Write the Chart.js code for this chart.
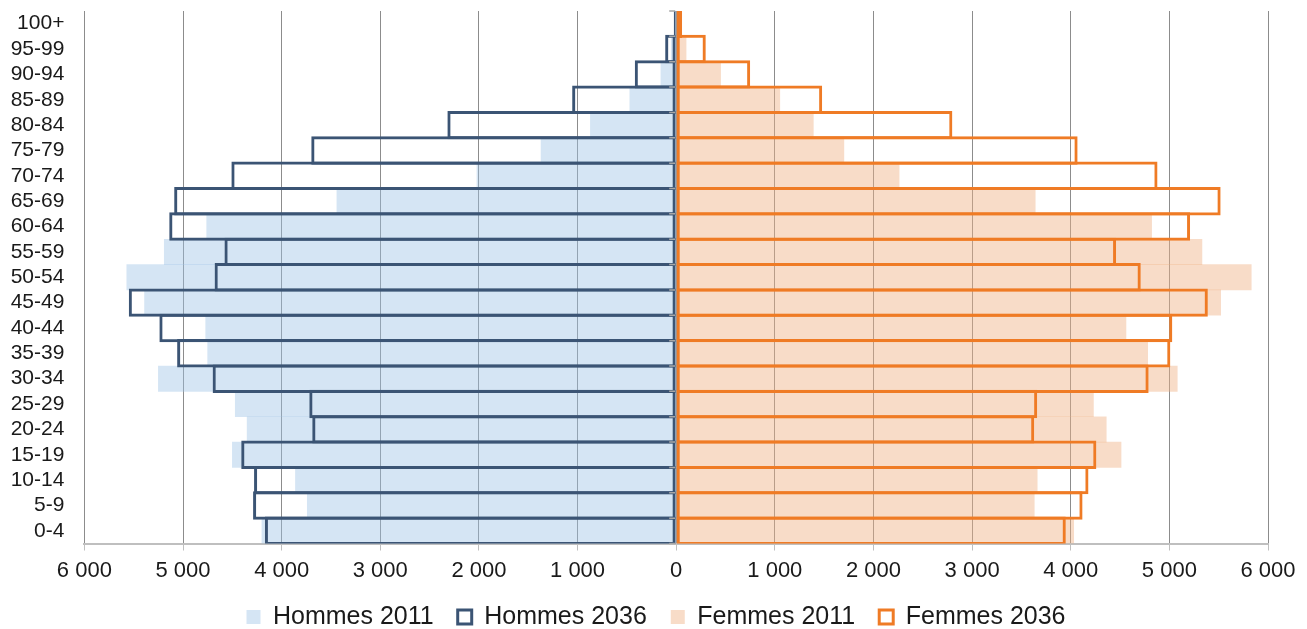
<!DOCTYPE html>
<html>
<head>
<meta charset="utf-8">
<script src="https://cdn.jsdelivr.net/npm/chart.js@4.4.1/dist/chart.umd.min.js"></script>
<style>
  html, body { margin: 0; padding: 0; background: #fff; }
  #wrap { position: relative; width: 1307px; height: 629px; }
</style>
</head>
<body>
<div id="wrap"><canvas id="pyramid"></canvas></div>
<script>
/* ---------- Data (youngest first) ---------- */
const ageGroups = ["0-4", "5-9", "10-14", "15-19", "20-24", "25-29", "30-34", "35-39", "40-44", "45-49",
  "50-54", "55-59", "60-64", "65-69", "70-74", "75-79", "80-84", "85-89", "90-94", "95-99", "100+"];

const hommes2011 = [4200, 3740, 3860, 4500, 4350, 4470, 5250, 4750, 4770, 5390,
  5570, 5190, 4760, 3440, 2020, 1370, 870, 470, 155, 50, 10];
const hommes2036 = [4170, 4290, 4280, 4410, 3690, 3720, 4700, 5060, 5240, 5550,
  4680, 4580, 5140, 5090, 4510, 3700, 2320, 1055, 420, 112, 25];
const femmes2011 = [4030, 3630, 3660, 4510, 4360, 4230, 5080, 4780, 4560, 5520,
  5830, 5330, 4820, 3640, 2260, 1700, 1390, 1050, 450, 100, 20];
const femmes2036 = [3950, 4120, 4180, 4260, 3630, 3660, 4790, 5010, 5030, 5390,
  4710, 4460, 5210, 5520, 4880, 4070, 2800, 1480, 750, 300, 60];

const xTicks = [-6000, -5000, -4000, -3000, -2000, -1000, 0, 1000, 2000, 3000, 4000, 5000, 6000];

/* ---------- Helpers ---------- */
function fmt(v) {
  return String(Math.abs(v)).replace(/\B(?=(\d{3})+(?!\d))/g, " ");
}

const FONT = "'Liberation Sans', Arial, sans-serif";

// small grey ticks on the zero axis, one per category boundary
const zeroAxis = {
  id: "zeroAxis",
  afterDatasetsDraw(chart) {
    const { ctx, scales: { x, y } } = chart;
    const x0 = x.getPixelForValue(0);
    const step = (y.bottom - y.top) / ageGroups.length;
    ctx.save();
    ctx.strokeStyle = "#a6a6a6";
    ctx.lineWidth = 1.5;
    ctx.beginPath();
    for (let i = 0; i <= ageGroups.length; i++) {
      const yy = y.top + i * step;
      ctx.moveTo(x0 - 7, yy);
      ctx.lineTo(x0 - 1, yy);
    }
    ctx.stroke();
    ctx.restore();
  },
};

// the legend sits a bit right of the canvas centre
const legendShift = {
  id: "legendShift",
  afterLayout(chart) {
    chart.legend.left += 17;
    chart.legend.right += 17;
  },
};

/* ---------- Chart ---------- */
const outline = { grouped: false, barPercentage: 1.12, categoryPercentage: 1, borderWidth: 3, borderSkipped: false,
  backgroundColor: "rgba(255,255,255,0)" };
const solid = { grouped: false, barPercentage: 1, categoryPercentage: 1, borderWidth: 0 };

new Chart(document.getElementById("pyramid"), {
  type: "bar",
  data: {
    labels: ageGroups,
    datasets: [
      { label: "Hommes 2011", data: hommes2011.map((v) => -v), backgroundColor: "rgba(157,195,230,0.43)", order: 4, ...solid },
      { label: "Hommes 2036", data: hommes2036.map((v) => -v), borderColor: "#3b5474", order: 1, ...outline },
      { label: "Femmes 2011", data: femmes2011, backgroundColor: "rgba(239,177,133,0.45)", order: 3, ...solid },
      { label: "Femmes 2036", data: femmes2036, borderColor: "#ef7b25", order: 2, ...outline },
    ],
  },
  options: {
    indexAxis: "y",
    responsive: true,
    maintainAspectRatio: false,
    animation: false,
    layout: { padding: { left: 10, right: 39, top: 11, bottom: -10.5 } },
    scales: {
      x: {
        min: -6000,
        max: 6000,
        afterBuildTicks: (axis) => { axis.ticks = xTicks.map((v) => ({ value: v })); },
        afterFit: (s) => { s.height = 37; s.paddingLeft = 0; s.paddingRight = 0; },
        ticks: { callback: (v) => fmt(v), color: "#1a1a1a", padding: 9, maxRotation: 0,
          font: { family: FONT, size: 22, lineHeight: 1 } },
        grid: { color: "#8c8c8c", lineWidth: 1, tickLength: 7, tickColor: "#bfbfbf" },
        border: { color: "#bfbfbf", width: 2 },
      },
      y: {
        reverse: true,
        afterFit: (s) => { s.width = 74.4; s.paddingTop = 0; s.paddingBottom = 0; },
        grid: { display: false, drawTicks: false },
        border: { display: false },
        ticks: { color: "#1a1a1a", padding: 20, autoSkip: false, font: { family: FONT, size: 21 } },
      },
    },
    plugins: {
      tooltip: { enabled: false },
      legend: {
        position: "bottom",
        labels: {
          color: "#1a1a1a",
          font: { family: FONT, size: 25 },
          boxWidth: 14,
          boxHeight: 14,
          padding: 24,
          sort: (a, b) => a.datasetIndex - b.datasetIndex,
        },
      },
    },
  },
  plugins: [zeroAxis, legendShift],
});
</script>
</body>
</html>
